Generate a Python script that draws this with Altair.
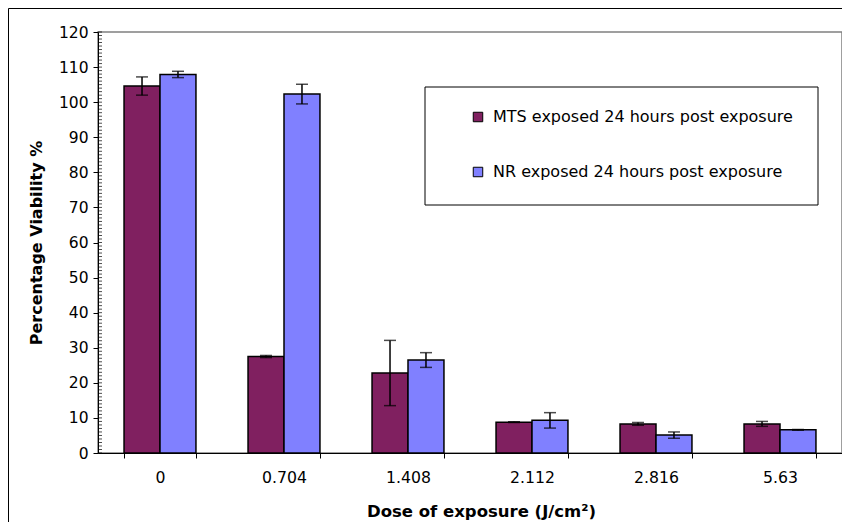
import altair as alt
import pandas as pd

doses = ["0", "0.704", "1.408", "2.112", "2.816", "5.63"]
series_names = ["MTS exposed 24 hours post exposure", "NR exposed 24 hours post exposure"]
mts_values = [104.6, 27.5, 22.8, 8.8, 8.3, 8.3]
mts_errors = [2.6, 0.3, 9.3, 0.1, 0.4, 0.7]
nr_values = [107.9, 102.3, 26.5, 9.3, 5.1, 6.6]
nr_errors = [0.9, 2.8, 2.1, 2.2, 0.9, 0.1]
major_ticks = list(range(0, 121, 10))
minor_ticks = list(range(0, 121, 1))
colors = ["#802060", "#8080FF"]

rows = []
for d, v, e in zip(doses, mts_values, mts_errors):
    rows.append({"dose": d, "series": series_names[0], "value": v, "err": e})
for d, v, e in zip(doses, nr_values, nr_errors):
    rows.append({"dose": d, "series": series_names[1], "value": v, "err": e})
df = pd.DataFrame(rows)
df["lo"] = df["value"] - df["err"]
df["hi"] = df["value"] + df["err"]

FONT = "DejaVu Sans"

x_axis = alt.Axis(title="Dose of exposure (J/cm²)", labelAngle=0, tickBand="extent",
                  tickSize=5, labelPadding=12, labelFont=FONT, labelFontSize=15.7,
                  labelColor="black", titleFont=FONT, titleFontSize=16.5,
                  titleFontWeight="bold", titleColor="black", titlePadding=19,
                  titleX=383, domainColor="black", tickColor="black", domainWidth=1)
y_axis = alt.Axis(title="Percentage Viability %", values=major_ticks, tickSize=5,
                  labelPadding=5, labelFont=FONT, labelFontSize=15.5, labelColor="black",
                  labelOverlap=False,
                  titleFont=FONT, titleFontSize=16, titleFontWeight="bold",
                  titleColor="black", titlePadding=14, grid=False,
                  domainColor="black", tickColor="black")
x_scale = alt.Scale(paddingInner=0.42, paddingOuter=0.21)
x_enc = alt.X("dose:N", sort=doses, scale=x_scale, axis=x_axis)
xoff = alt.XOffset("series:N", sort=series_names, scale=alt.Scale(paddingInner=0, paddingOuter=0))
y_scale = alt.Scale(domain=[0, 120], nice=False, zero=True)

bars = alt.Chart(df).mark_bar(stroke="black", strokeWidth=1.5).encode(
    x=x_enc,
    xOffset=xoff,
    y=alt.Y("value:Q", scale=y_scale, axis=y_axis),
    color=alt.Color("series:N", sort=series_names,
                    scale=alt.Scale(domain=series_names, range=colors),
                    legend=alt.Legend(title=None, orient="none", legendX=372, legendY=77,
                                      padding=0, symbolType="square", symbolSize=90,
                                      symbolStrokeColor="black", symbolStrokeWidth=1,
                                      labelFont=FONT, labelFontSize=16, labelColor="black",
                                      labelOffset=7, rowPadding=39, labelLimit=400)),
)

err_rule = alt.Chart(df).mark_rule(color="black", strokeWidth=1.5).encode(
    x=x_enc, xOffset=xoff,
    y=alt.Y("lo:Q", scale=y_scale, axis=y_axis), y2="hi:Q")
cap_hi = alt.Chart(df).mark_tick(color="black", thickness=1.5, size=12).encode(
    x=x_enc, xOffset=xoff, y=alt.Y("hi:Q", scale=y_scale, axis=y_axis))
cap_lo = alt.Chart(df).mark_tick(color="black", thickness=1.5, size=12).encode(
    x=x_enc, xOffset=xoff, y=alt.Y("lo:Q", scale=y_scale, axis=y_axis))

minor = alt.Chart(pd.DataFrame({"t": minor_ticks})).mark_tick(
    color="black", thickness=1, size=4, orient="horizontal").encode(
    y=alt.Y("t:Q", scale=y_scale, axis=y_axis), x=alt.value(2))

one = pd.DataFrame({"a": [0]})
legend_box = alt.Chart(one).mark_rect(fill="white", stroke="black", strokeWidth=1).encode(
    x=alt.value(327), x2=alt.value(720), y=alt.value(55), y2=alt.value(173))
frame = alt.Chart(one).mark_rect(fill=None, stroke="black", strokeWidth=1).encode(
    x=alt.value(-89.5), x2=alt.value(800), y=alt.value(-23.5), y2=alt.value(520))

chart = alt.layer(frame, legend_box, bars, err_rule, cap_hi, cap_lo, minor).properties(
    width=744, height=421,
    autosize=alt.AutoSizeParams(type="none"),
    padding={"left": 90, "top": 24, "right": 0, "bottom": 69},
    background="white",
).configure_view(stroke="#808080", strokeWidth=1.5)

chart.save("out.html", embed_options={"renderer": "svg", "actions": False})
